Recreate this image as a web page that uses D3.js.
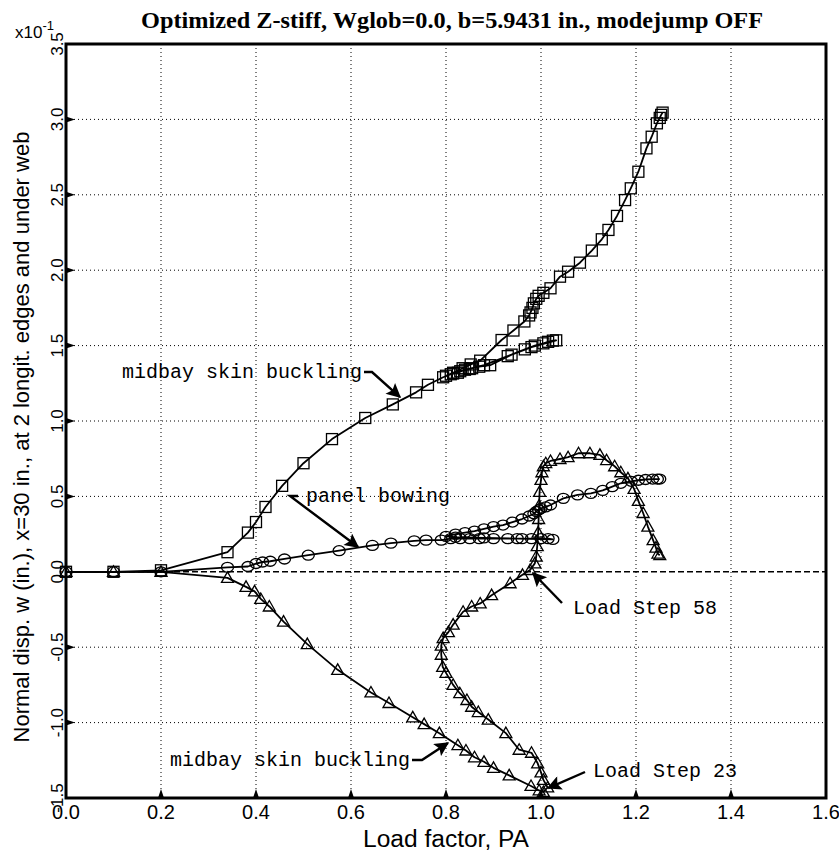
<!DOCTYPE html>
<html>
<head>
<meta charset="utf-8">
<script src="https://cdn.jsdelivr.net/npm/d3@7"></script>
<style>
body { margin: 0; background: #fff; }
svg { display: block; background: #fff; }
.grid { stroke: #000; stroke-width: 1; stroke-dasharray: 1,3; fill: none; }
.zero { stroke: #000; stroke-width: 1.6; stroke-dasharray: 6,3; }
.frame { fill: none; stroke: #000; stroke-width: 3; }
.curve { fill: none; stroke: #000; stroke-width: 1.8; stroke-linejoin: round; }
.mark { fill: none; stroke: #000; stroke-width: 1.3; }
.tick { font-family: "Liberation Sans", Arial, sans-serif; fill: #000; }
.note { font-family: "Liberation Mono", "Courier New", monospace; font-size: 20px; fill: #000; }
.arrow { fill: none; stroke: #000; stroke-width: 2.4; }
</style>
</head>
<body>
<svg id="chart" width="839" height="855"></svg>
<script>
/* Load factor vs normal displacement (x10^-1 in.) */

const xTicks = [0.0, 0.2, 0.4, 0.6, 0.8, 1.0, 1.2, 1.4, 1.6];
const yTicks = [-1.5, -1.0, -0.5, 0.0, 0.5, 1.0, 1.5, 2.0, 2.5, 3.0, 3.5];

// midbay skin buckling, positive side (squares)
const squarePts = [
    [0, 0], [0.1, 0], [0.2, 0.01], [0.34, 0.13], [0.383, 0.26], [0.40, 0.33],
    [0.42, 0.43], [0.455, 0.57], [0.50, 0.72], [0.56, 0.88], [0.63, 1.02],
    [0.688, 1.11], [0.737, 1.19], [0.762, 1.24], [0.794, 1.29], [0.81, 1.31],
    [0.825, 1.32], [0.84, 1.34], [0.855, 1.35], [0.87, 1.36], [0.893, 1.37],
    [0.938, 1.44], [0.966, 1.475], [0.987, 1.50], [1.005, 1.515], [1.015, 1.525],
    [1.025, 1.533], [1.032, 1.535],
    [0.98, 1.49], [0.93, 1.43], [0.88, 1.37], [0.85, 1.345], [0.83, 1.33],
    [0.815, 1.315], [0.80, 1.30], [0.815, 1.32], [0.835, 1.35], [0.852, 1.375],
    [0.872, 1.40], [0.917, 1.537], [0.942, 1.60], [0.965, 1.66], [0.975, 1.70],
    [0.978, 1.72], [0.982, 1.75], [0.985, 1.78], [0.99, 1.81], [0.995, 1.83],
    [1.005, 1.85], [1.02, 1.88], [1.04, 1.957], [1.057, 1.99], [1.082, 2.05],
    [1.107, 2.13], [1.128, 2.205], [1.142, 2.267], [1.16, 2.36], [1.177, 2.465],
    [1.189, 2.543], [1.205, 2.653], [1.222, 2.808], [1.233, 2.885], [1.244, 2.974],
    [1.25, 3.01], [1.253, 3.03], [1.256, 3.045]
];

// panel bowing (circles)
const circlePts = [
    [0, 0], [0.1, 0], [0.2, 0.0], [0.34, 0.03], [0.383, 0.035], [0.40, 0.055],
    [0.414, 0.065], [0.43, 0.07], [0.46, 0.085], [0.51, 0.11], [0.575, 0.14],
    [0.645, 0.175], [0.684, 0.19], [0.733, 0.205], [0.758, 0.21], [0.79, 0.21],
    [0.81, 0.22], [0.83, 0.22], [0.85, 0.22], [0.87, 0.22], [0.90, 0.22],
    [0.93, 0.22], [0.96, 0.22], [0.98, 0.22], [1.0, 0.22], [1.015, 0.22], [1.025, 0.215],
    [0.95, 0.22], [0.88, 0.225], [0.82, 0.23], [0.80, 0.235], [0.82, 0.25],
    [0.84, 0.26], [0.86, 0.27], [0.88, 0.285], [0.90, 0.30], [0.92, 0.31],
    [0.94, 0.33], [0.96, 0.35], [0.975, 0.37], [0.985, 0.385], [0.99, 0.40],
    [0.995, 0.41], [1.0, 0.42], [1.01, 0.43], [1.02, 0.443], [1.047, 0.487],
    [1.077, 0.51], [1.105, 0.52], [1.13, 0.54], [1.15, 0.565], [1.168, 0.587],
    [1.19, 0.60], [1.205, 0.607], [1.22, 0.612], [1.235, 0.615], [1.245, 0.615],
    [1.25, 0.615]
];

// midbay skin buckling, negative side and later branch (triangles)
const trianglePts = [
    [0, 0], [0.1, 0], [0.2, 0.0], [0.34, -0.04], [0.379, -0.10], [0.397, -0.13],
    [0.41, -0.18], [0.428, -0.23], [0.458, -0.33], [0.508, -0.48], [0.572, -0.65],
    [0.642, -0.80], [0.68, -0.87], [0.73, -0.965], [0.754, -1.01], [0.786, -1.07],
    [0.825, -1.15], [0.842, -1.185], [0.86, -1.23], [0.88, -1.26], [0.90, -1.30],
    [0.933, -1.35], [0.979, -1.42], [0.996, -1.45], [1.005, -1.46], [1.014, -1.43],
    [1.005, -1.38], [1.0, -1.33], [0.993, -1.27], [0.98, -1.20], [0.954, -1.18],
    [0.926, -1.07], [0.889, -0.98], [0.868, -0.93], [0.854, -0.895], [0.844, -0.85],
    [0.829, -0.805], [0.815, -0.75], [0.80, -0.67], [0.793, -0.63], [0.79, -0.55],
    [0.79, -0.49], [0.794, -0.44], [0.805, -0.40], [0.815, -0.35], [0.836, -0.265],
    [0.854, -0.23], [0.872, -0.21], [0.896, -0.155], [0.935, -0.076], [0.961, -0.02],
    [0.977, 0.012], [0.987, 0.056], [0.99, 0.10], [0.992, 0.17], [0.994, 0.26],
    [0.995, 0.35], [0.996, 0.44], [0.997, 0.53], [1.0, 0.61], [1.002, 0.66],
    [1.005, 0.70], [1.01, 0.72], [1.02, 0.735], [1.04, 0.748], [1.057, 0.76],
    [1.079, 0.786], [1.103, 0.786], [1.124, 0.775], [1.138, 0.74], [1.155, 0.70],
    [1.168, 0.66], [1.183, 0.62], [1.196, 0.55], [1.205, 0.47], [1.215, 0.39],
    [1.225, 0.30], [1.236, 0.21], [1.242, 0.16], [1.246, 0.12], [1.25, 0.11]
];

const titleText = "Optimized Z-stiff, Wglob=0.0, b=5.9431 in., modejump OFF";
const xTitle = "Load factor, PA";
const yTitle = "Normal disp. w (in.), x=30 in., at 2 longit. edges and under web";

const svg = d3.select("#chart");
const plotL = 66, plotR = 826, plotT = 44, plotB = 798;

const x = d3.scaleLinear().domain([0, 1.6]).range([plotL, plotR]);
const y = d3.scaleLinear().domain([-1.5, 3.5]).range([plotB, plotT]);

// arrow head
svg.append("defs").append("marker")
    .attr("id", "head").attr("viewBox", "0 0 10 10")
    .attr("refX", 9).attr("refY", 5)
    .attr("markerWidth", 7).attr("markerHeight", 6)
    .attr("markerUnits", "strokeWidth")
    .attr("orient", "auto")
    .append("path").attr("d", "M0,0 L10,5 L0,10 L2,5 Z").attr("fill", "#000");

const innerY = yTicks.filter(d => d !== 0 && d > -1.5 && d < 3.5);

// grid
svg.append("g").selectAll("line")
    .data(xTicks.slice(1, -1)).enter()
    .append("line").attr("class", "grid")
    .attr("x1", d => x(d)).attr("x2", d => x(d))
    .attr("y1", plotT).attr("y2", plotB);

svg.append("g").selectAll("line")
    .data(innerY).enter()
    .append("line").attr("class", "grid")
    .attr("x1", plotL).attr("x2", plotR)
    .attr("y1", d => y(d)).attr("y2", d => y(d));

svg.append("line").attr("class", "zero")
    .attr("x1", plotL).attr("x2", plotR)
    .attr("y1", y(0)).attr("y2", y(0));

// curves
const line = d3.line().x(d => x(d[0])).y(d => y(d[1]));
[squarePts, circlePts, trianglePts].forEach(pts => {
    svg.append("path").attr("class", "curve").datum(pts).attr("d", line);
});

// markers
svg.append("g").selectAll("rect")
    .data(squarePts).enter()
    .append("rect").attr("class", "mark")
    .attr("x", d => x(d[0]) - 5.5).attr("y", d => y(d[1]) - 5.5)
    .attr("width", 11).attr("height", 11);

svg.append("g").selectAll("ellipse")
    .data(circlePts).enter()
    .append("ellipse").attr("class", "mark")
    .attr("cx", d => x(d[0])).attr("cy", d => y(d[1]))
    .attr("rx", 6).attr("ry", 5);

svg.append("g").selectAll("path")
    .data(trianglePts).enter()
    .append("path").attr("class", "mark")
    .attr("d", d => {
        const cx = x(d[0]), cy = y(d[1]);
        return `M${cx - 6},${cy + 4.5} L${cx},${cy - 6} L${cx + 6},${cy + 4.5} Z`;
    });

// frame and tick triangles
svg.append("rect").attr("class", "frame")
    .attr("x", plotL).attr("y", plotT)
    .attr("width", plotR - plotL).attr("height", plotB - plotT);

svg.append("g").selectAll("path")
    .data(xTicks.slice(1, -1)).enter()
    .append("path")
    .attr("d", d => `M${x(d) - 3},${plotB} L${x(d)},${plotB - 9} L${x(d) + 3},${plotB} Z`);

svg.append("g").selectAll("path")
    .data(innerY).enter()
    .append("path")
    .attr("d", d => `M${plotL},${y(d) - 3} L${plotL + 9},${y(d)} L${plotL},${y(d) + 3} Z`);

// tick labels
svg.append("g").selectAll("text")
    .data(xTicks).enter()
    .append("text").attr("class", "tick")
    .attr("x", d => x(d)).attr("y", 819)
    .attr("text-anchor", "middle").attr("font-size", 20)
    .text(d => d.toFixed(1));

svg.append("g").selectAll("text")
    .data(yTicks).enter()
    .append("text").attr("class", "tick")
    .attr("transform", d => `translate(63,${y(d)}) rotate(-90)`)
    .attr("text-anchor", "middle").attr("font-size", 17)
    .text(d => d.toFixed(1));

// exponent
const ex = svg.append("text").attr("class", "tick").attr("x", 15).attr("y", 38).attr("font-size", 17);
ex.append("tspan").text("x10");
ex.append("tspan").attr("dy", -8).attr("font-size", 13).text("-1");

// titles
svg.append("text")
    .attr("x", 452).attr("y", 28)
    .attr("text-anchor", "middle")
    .attr("font-family", "'Liberation Serif', 'Times New Roman', serif")
    .attr("font-weight", "bold").attr("font-size", 23)
    .attr("textLength", 622).attr("lengthAdjust", "spacingAndGlyphs")
    .text(titleText);

svg.append("text").attr("class", "tick")
    .attr("x", 446).attr("y", 847)
    .attr("text-anchor", "middle").attr("font-size", 23)
    .attr("textLength", 166).attr("lengthAdjust", "spacingAndGlyphs")
    .text(xTitle);

svg.append("text").attr("class", "tick")
    .attr("transform", `translate(29,437) rotate(-90)`)
    .attr("text-anchor", "middle").attr("font-size", 22)
    .text(yTitle);

// annotations
function note(txt, tx, ty, path) {
    svg.append("text").attr("class", "note").attr("x", tx).attr("y", ty).text(txt);
    svg.append("path").attr("class", "arrow").attr("d", path).attr("marker-end", "url(#head)");
}

note("midbay skin buckling", 122, 378,
    `M${364},${372} L${372},${372} L${x(0.703)},${y(1.159)}`);
note("panel bowing", 306, 502,
    `M${298},${496} L${290},${496} L${x(0.615)},${y(0.164)}`);
note("Load Step 58", 573, 614,
    `M${562},${603} L${x(0.983)},${y(-0.008)}`);
note("Load Step 23", 593, 777,
    `M${585},${772} L${x(1.015)},${y(-1.434)}`);
note("midbay skin buckling", 170, 766,
    `M${412},${760} L${422},${760} L${x(0.804)},${y(-1.135)}`);
</script>
</body>
</html>
